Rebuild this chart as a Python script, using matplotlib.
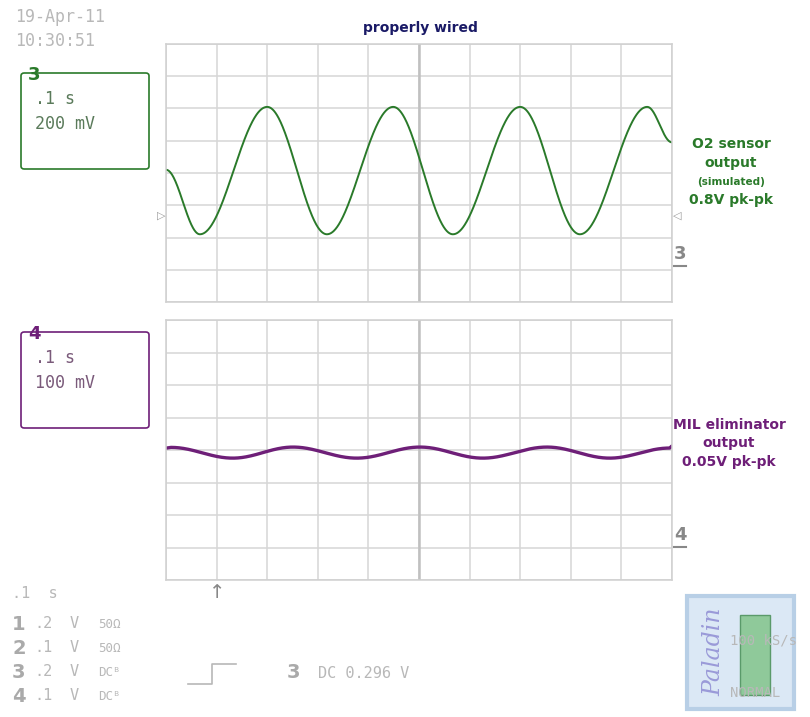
import numpy as np
import matplotlib.pyplot as plt
from matplotlib.patches import FancyBboxPatch, Rectangle

# ---- data ----
ch3_t = [0.0, 0.067, 0.200, 0.318, 0.449, 0.567, 0.700, 0.818, 0.951, 1.0]
ch3_v = [0.02, -0.38, 0.41, -0.38, 0.41, -0.38, 0.41, -0.38, 0.41, 0.19]
ch4_t = [0.0, 0.010, 0.132, 0.251, 0.377, 0.502, 0.626, 0.753, 0.877, 0.995, 1.0]
ch4_v = [0.006, 0.008, -0.025, 0.009, -0.025, 0.009, -0.025, 0.009, -0.025, 0.006, 0.012]
ch3_title = "properly wired"

W, H = 810, 717
fig = plt.figure(figsize=(W/100, H/100), dpi=100)
fig.patch.set_facecolor('white')
GREEN = '#2a7a2a'
PURPLE = '#6e1f78'
GRAY = '#b8b8b8'

def smooth(ts, vs, n=1500):
    t = np.linspace(ts[0], ts[-1], n)
    idx = np.clip(np.searchsorted(ts, t, side='right') - 1, 0, len(ts) - 2)
    t0 = np.array(ts)[idx]; t1 = np.array(ts)[idx + 1]
    v0 = np.array(vs)[idx]; v1 = np.array(vs)[idx + 1]
    s = (t - t0) / (t1 - t0)
    return t, v0 + (v1 - v0) * (1 - np.cos(np.pi * s)) / 2

def grid_axes(top, bottom, ylim):
    ax = fig.add_axes([166/W, 1 - bottom/H, 506/W, (bottom - top)/H])
    ax.set_xlim(0, 1); ax.set_ylim(*ylim)
    ax.set_xticks(np.linspace(0, 1, 11)); ax.set_yticks(np.linspace(ylim[0], ylim[1], 9))
    ax.grid(True, color='#d6d6d6', lw=1.1)
    ax.tick_params(length=0, labelbottom=False, labelleft=False)
    for s in ax.spines.values():
        s.set_color('#d0d0d0'); s.set_linewidth(1.1)
    ax.axvline(0.5, color='#c0c0c0', lw=1.8)
    return ax

ax3 = grid_axes(44, 302, (-0.8, 0.8))
t, v = smooth(ch3_t, ch3_v)
ax3.plot(t, v, color=GREEN, lw=1.4)
ax4 = grid_axes(320, 580, (-0.4, 0.4))
t, v = smooth(ch4_t, ch4_v)
ax4.plot(t, v, color=PURPLE, lw=2.4)

def ft(x, y, s, **kw):
    fig.text(x/W, 1 - y/H, s, **kw)

ft(420, 28, ch3_title, ha='center', va='center', fontsize=10, fontweight='bold', color='#1a1a66')
ft(15, 17, "19-Apr-11", fontsize=12, color=GRAY, family='DejaVu Sans Mono', va='center')
ft(15, 41, "10:30:51", fontsize=12, color=GRAY, family='DejaVu Sans Mono', va='center')

for (y0, y1, col, num, l1, l2) in [(73, 169, GREEN, '3', '.1 s', '200 mV'),
                                    (332, 428, PURPLE, '4', '.1 s', '100 mV')]:
    fig.patches.append(FancyBboxPatch((21/W, 1 - y1/H), 128/W, (y1 - y0)/H,
                       boxstyle='round,pad=0,rounding_size=0.004', transform=fig.transFigure,
                       fill=False, edgecolor=col, lw=1.2))
    ft(28, y0 + 2, num, fontsize=13, fontweight='bold', color=col, va='center')
    ft(35, y0 + 26, l1, fontsize=12, color='#5a7a5a' if col == GREEN else '#7a5a7a', family='DejaVu Sans Mono', va='center')
    ft(35, y0 + 51, l2, fontsize=12, color='#5a7a5a' if col == GREEN else '#7a5a7a', family='DejaVu Sans Mono', va='center')

ft(731, 144, "O2 sensor", ha='center', va='center', fontsize=10, fontweight='bold', color=GREEN)
ft(731, 163, "output", ha='center', va='center', fontsize=10, fontweight='bold', color=GREEN)
ft(731, 182, "(simulated)", ha='center', va='center', fontsize=7.5, fontweight='bold', color=GREEN)
ft(731, 200, "0.8V pk-pk", ha='center', va='center', fontsize=10, fontweight='bold', color=GREEN)
ft(729, 425, "MIL eliminator", ha='center', va='center', fontsize=10, fontweight='bold', color=PURPLE)
ft(729, 443, "output", ha='center', va='center', fontsize=10, fontweight='bold', color=PURPLE)
ft(729, 462, "0.05V pk-pk", ha='center', va='center', fontsize=10, fontweight='bold', color=PURPLE)

# trigger level markers and channel tags
ft(161, 216, "▷", fontsize=8, color='#999999', ha='center', va='center')
ft(677, 216, "◁", fontsize=8, color='#999999', ha='center', va='center')
ft(680, 254, "3", fontsize=13, fontweight='bold', color='#888888', ha='center', va='center')
fig.add_artist(plt.Line2D([674/W, 686/W], [1 - 266/H]*2, color='#888888', lw=1.5))
ft(680, 535, "4", fontsize=13, fontweight='bold', color='#888888', ha='center', va='center')
fig.add_artist(plt.Line2D([674/W, 686/W], [1 - 547/H]*2, color='#888888', lw=1.5))
ft(217, 592, "↑", fontsize=14, color='#888888', ha='center', va='center')

mono = dict(family='DejaVu Sans Mono', color=GRAY, va='center', fontsize=11)
ft(12, 594, ".1  s", **mono)
rows = [("1", ".2", "50Ω"), ("2", ".1", "50Ω"), ("3", ".2", "DCᴮ"), ("4", ".1", "DCᴮ")]
for i, (n, s, c) in enumerate(rows):
    y = 624 + i * 24
    ft(12, y, n, fontsize=14, fontweight='bold', color='#aaaaaa', va='center')
    ft(34, y, s, **mono); ft(70, y, "V", **mono); ft(98, y, c, **dict(mono, fontsize=9))
fig.add_artist(plt.Line2D([188/W, 212/W, 212/W, 236/W], [1 - 684/H, 1 - 684/H, 1 - 664/H, 1 - 664/H], color=GRAY, lw=1.2))
ft(287, 673, "3", fontsize=14, fontweight='bold', color='#aaaaaa', va='center')
ft(318, 673, "DC 0.296 V", **mono)

# logo
fig.patches.append(Rectangle((687/W, 1 - 709/H), 107/W, 113/H, transform=fig.transFigure,
                             facecolor='#dbe8f5', edgecolor='#b8cfe6', lw=3))
ft(714, 652, "Paladin", rotation=90, fontsize=17, color='#9a9ad8', family='DejaVu Serif',
   fontstyle='italic', ha='center', va='center')
fig.patches.append(Rectangle((740/W, 1 - 695/H), 30/W, 80/H, transform=fig.transFigure,
                             facecolor='#8fc99a', edgecolor='#5a9a6a', lw=1))
ft(730, 640, "100 kS/s", **dict(mono, fontsize=10))
ft(730, 693, "NORMAL", **dict(mono, fontsize=10))

fig.savefig('out.png', dpi=100)
